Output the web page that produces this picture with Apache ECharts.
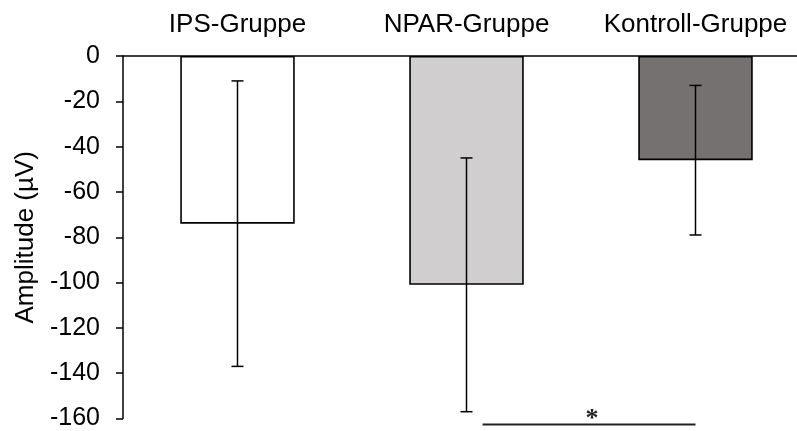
<!DOCTYPE html>
<html>
<head>
<meta charset="utf-8">
<script src="https://cdn.jsdelivr.net/npm/echarts@6/dist/echarts.min.js"></script>
<style>html,body{margin:0;padding:0;background:#fff;overflow:hidden;width:797px;height:431px}#c{width:810px;height:431px}</style>
</head>
<body>
<div id="c"></div>
<script>
var categories = ['IPS-Gruppe', 'NPAR-Gruppe', 'Kontroll-Gruppe'];
var means = [-74, -101, -46];
var errLow = [-137, -157, -79];
var errHigh = [-11, -45, -13];
var barColors = ['#ffffff', '#d0cece', '#767171'];
var yTicks = { min: -160, max: 0, interval: 20 };
var sigFrom = 1, sigTo = 2, sigLevel = -162.7, sigLabel = '*';

var chart = echarts.init(document.getElementById('c'), null, { renderer: 'canvas' });
var FONT = 'Liberation Sans, Arial, sans-serif';

var errData = categories.map(function (c, i) { return [i, errLow[i], errHigh[i]]; });

chart.setOption({
  animation: false,
  backgroundColor: '#ffffff',
  grid: { left: 123, top: 56, bottom: 10, right: 0 },
  xAxis: {
    type: 'category',
    data: categories,
    position: 'top',
    axisLine: { show: true, lineStyle: { color: '#000', width: 1.5 } },
    axisTick: { show: false },
    axisLabel: { color: '#000', fontSize: 26, fontFamily: FONT, margin: 18, interval: 0 },
    splitLine: { show: false }
  },
  yAxis: {
    type: 'value',
    min: yTicks.min, max: yTicks.max, interval: yTicks.interval,
    name: 'Amplitude (µV)',
    nameLocation: 'middle',
    nameGap: 84,
    nameTextStyle: { color: '#000', fontSize: 26, fontFamily: FONT },
    axisLine: { show: true, lineStyle: { color: '#000', width: 1.5 } },
    axisTick: { show: true, inside: false, length: 7, lineStyle: { color: '#000', width: 1.5 } },
    axisLabel: { color: '#000', fontSize: 25, fontFamily: FONT, margin: 23 },
    splitLine: { show: false }
  },
  series: [
    {
      type: 'bar',
      barWidth: '50%',
      data: means.map(function (v, i) {
        return { value: v, itemStyle: { color: barColors[i], borderColor: '#000', borderWidth: 1.6 } };
      }),
      z: 2
    },
    {
      type: 'custom',
      z: 3,
      data: errData,
      renderItem: function (params, api) {
        var x = api.value(0);
        var lo = api.coord([x, api.value(1)]);
        var hi = api.coord([x, api.value(2)]);
        var cap = 6;
        var st = { stroke: '#000', lineWidth: 1.5 };
        return {
          type: 'group',
          children: [
            { type: 'line', shape: { x1: lo[0], y1: lo[1], x2: hi[0], y2: hi[1] }, style: st },
            { type: 'line', shape: { x1: lo[0] - cap, y1: lo[1], x2: lo[0] + cap, y2: lo[1] }, style: st },
            { type: 'line', shape: { x1: hi[0] - cap, y1: hi[1], x2: hi[0] + cap, y2: hi[1] }, style: st }
          ]
        };
      }
    },
    {
      type: 'custom',
      z: 3,
      clip: false,
      data: [[sigFrom, sigTo, sigLevel]],
      renderItem: function (params, api) {
        var a = api.coord([api.value(0), api.value(2)]);
        var b = api.coord([api.value(1), api.value(2)]);
        var x1 = a[0] + (b[0] - a[0]) * 0.07;
        var x2 = b[0];
        return {
          type: 'group',
          children: [
            { type: 'line', shape: { x1: x1, y1: a[1], x2: x2, y2: a[1] }, style: { stroke: '#222', lineWidth: 2 } },
            { type: 'text', style: { text: sigLabel, x: (x1 + x2) / 2 + 3, y: a[1] + 8, textAlign: 'center', textVerticalAlign: 'bottom', fontSize: 26, fontWeight: 'bold', fontFamily: 'Liberation Serif, Times New Roman, serif', fill: '#222' } }
          ]
        };
      }
    }
  ]
});
</script>
</body>
</html>
